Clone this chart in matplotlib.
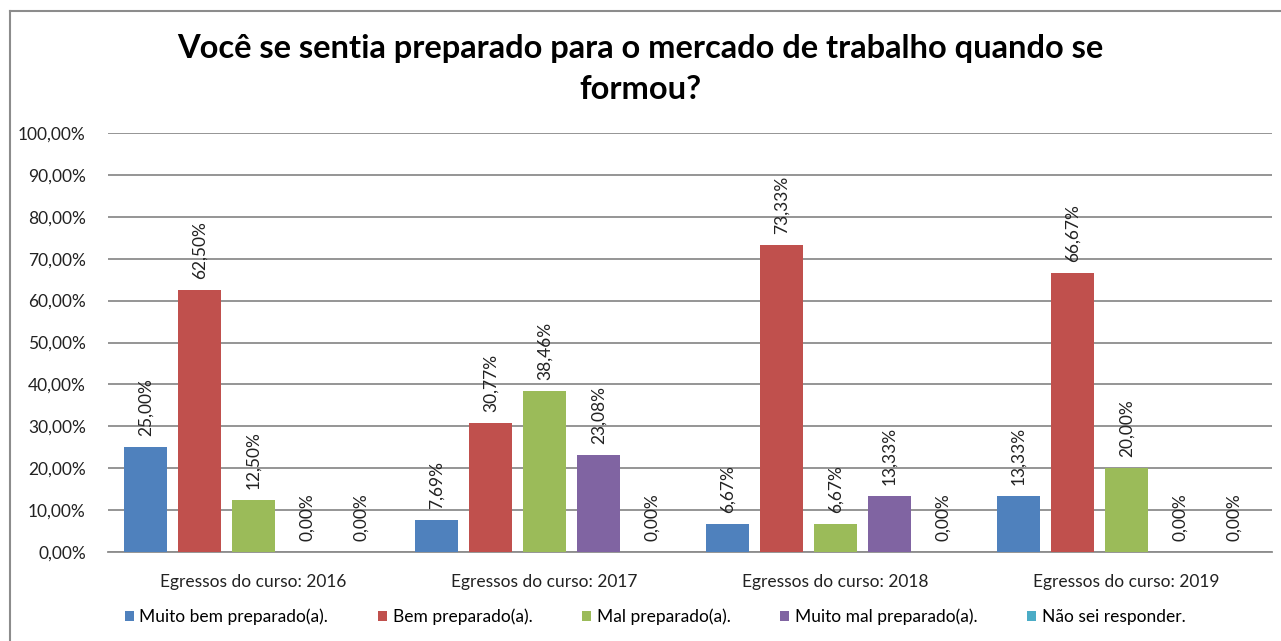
import matplotlib
matplotlib.use("Agg")
import matplotlib.pyplot as plt
from matplotlib.lines import Line2D
import numpy as np

plt.rcParams['font.family'] = ['Lato', 'DejaVu Sans']

# dados do gráfico
categorias = ["Egressos do curso: 2016", "Egressos do curso: 2017",
              "Egressos do curso: 2018", "Egressos do curso: 2019"]
series = ["Muito bem preparado(a).", "Bem preparado(a).", "Mal preparado(a).",
          "Muito mal preparado(a).", "Não sei responder."]
muito_bem = [25.00, 7.69, 6.67, 13.33]
bem = [62.50, 30.77, 73.33, 66.67]
mal = [12.50, 38.46, 6.67, 20.00]
muito_mal = [0.00, 23.08, 13.33, 0.00]
nao_sei = [0.00, 0.00, 0.00, 0.00]
valores = [muito_bem, bem, mal, muito_mal, nao_sei]
cores = ["#4F81BD", "#C0504D", "#9BBB59", "#8064A2", "#4BACC6"]

titulo = "Você se sentia preparado para o mercado de trabalho quando se\nformou?"

fs = 12.5

fig = plt.figure(figsize=(12.81, 6.41), dpi=100)
ax = fig.add_axes([108 / 1281, 1 - 552 / 641, (1272 - 108) / 1281, (552 - 133) / 641])

x = np.arange(len(categorias))
passo = 0.1856
largura = 0.151
for i, (nome, vals, cor) in enumerate(zip(series, valores, cores)):
    pos = x + (i - 2) * passo
    ax.bar(pos, vals, width=largura, color=cor, label=nome, zorder=3)
    for p, v in zip(pos, vals):
        ax.text(p, v + 2.6, f"{v:.2f}%".replace(".", ","), rotation=90,
                ha="center", va="bottom", fontsize=fs, color="#222222")

ax.set_xlim(-0.5, len(categorias) - 0.5)
ax.set_ylim(0, 100)
yt = np.arange(0, 101, 10)
ax.set_yticks(yt)
ax.set_yticklabels([f"{v:.2f}%".replace(".", ",") for v in yt], fontsize=fs, color="#222222")
ax.set_xticks(x)
ax.set_xticklabels(categorias, fontsize=fs, color="#222222")
ax.tick_params(axis="y", length=0, pad=16)
ax.tick_params(axis="x", length=0, pad=16)
ax.grid(axis="y", color="#8c8c8c", linewidth=1.3, zorder=0)
for s in ["top", "right", "left"]:
    ax.spines[s].set_visible(False)
ax.spines["bottom"].set_color("#8c8c8c")
ax.spines["bottom"].set_linewidth(1.3)

fig.text(0.5, 1 - 69 / 641, titulo, ha="center", va="center", fontsize=23.5,
         fontweight="bold", linespacing=1.5)

fig.legend(loc="center", bbox_to_anchor=(655 / 1281, 1 - 617 / 641), ncol=5, frameon=False,
           fontsize=fs, handlelength=0.55, handleheight=0.55, handletextpad=0.3,
           columnspacing=2.85)

# moldura do gráfico
fig.add_artist(Line2D([9.5 / 1281, 9.5 / 1281], [0, 1 - 10.5 / 641],
                      transform=fig.transFigure, color="#8c8c8c", linewidth=1.5))
fig.add_artist(Line2D([9.5 / 1281, 1], [1 - 10.5 / 641, 1 - 10.5 / 641],
                      transform=fig.transFigure, color="#8c8c8c", linewidth=1.5))

fig.savefig("out.png", dpi=100)
